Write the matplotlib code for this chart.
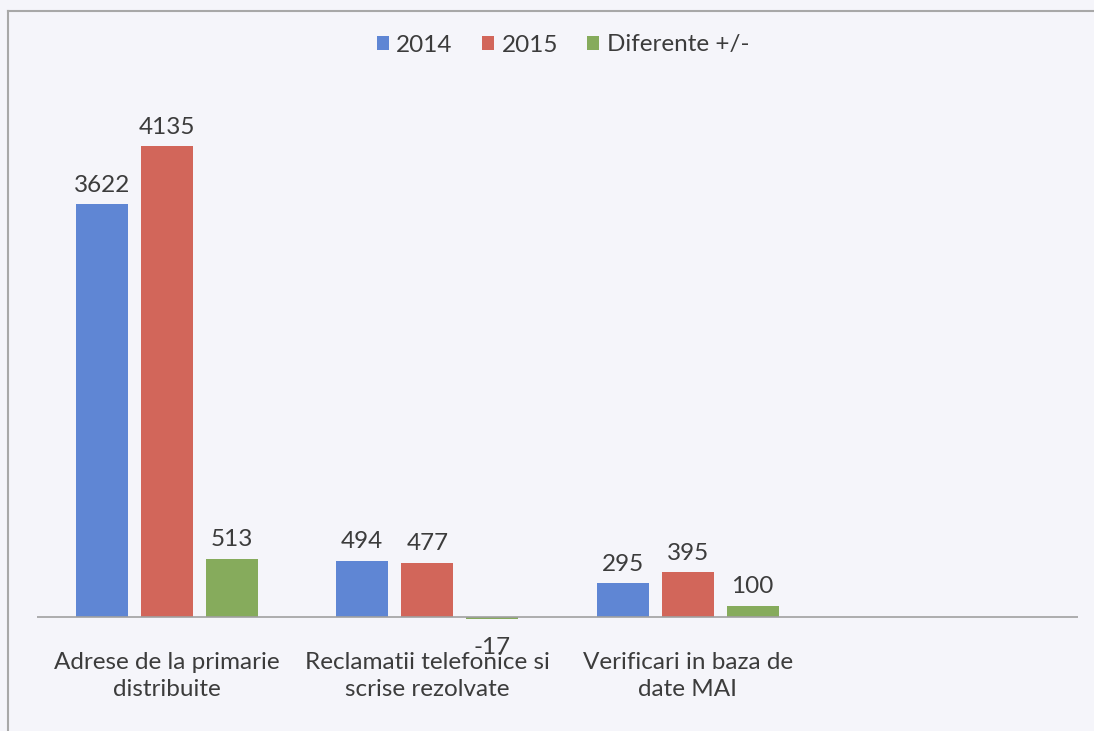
"""
Adrese / reclamatii / verificari 2014 vs 2015
"""
import matplotlib.pyplot as plt
from matplotlib.lines import Line2D
import numpy as np

plt.rcParams['font.family'] = ['Lato', 'DejaVu Sans']

# date
categorii = ['Adrese de la primarie\ndistribuite', 'Reclamatii telefonice si\nscrise rezolvate',
             'Verificari in baza de\ndate MAI', '']
val_2014 = [3622, 494, 295]
val_2015 = [4135, 477, 395]
diferente = [513, -17, 100]
serii = ['2014', '2015', 'Diferente +/-']
culori = ['#5f86d4', '#d2665a', '#86ab5c']

text_col = '#3c3c3c'
bg = '#f5f5fa'
fs = 17.5

fig = plt.figure(figsize=(10.94, 7.31), dpi=100, facecolor=bg)
ax = fig.add_axes([37 / 1094, 0.1482, 1041 / 1094, 0.709])
ax.set_facecolor(bg)

x = np.arange(len(categorii))
w = 0.2
for i, (vals, nume) in enumerate(zip([val_2014, val_2015, diferente], serii)):
    pos = x[:3] + (i - 1) * 0.25
    bars = ax.bar(pos, vals, width=w, color=culori[i], label=nume, zorder=2)
    for b, v in zip(bars, vals):
        if v >= 0:
            ax.annotate(str(v), (b.get_x() + b.get_width() / 2, v), xytext=(0, 6),
                        textcoords='offset points', ha='center', va='bottom',
                        fontsize=fs, color=text_col)
        else:
            ax.annotate(str(v), (b.get_x() + b.get_width() / 2, v), xytext=(0, -13),
                        textcoords='offset points', ha='center', va='top',
                        fontsize=fs, color=text_col, zorder=1)

ax.axhline(0, color='#a0a0a0', lw=1.2, zorder=3)
ax.set_xlim(-0.5, 3.5)
ax.set_ylim(-50, 4500)
ax.set_xticks(x)
ax.set_xticklabels(categorii, fontsize=fs, color=text_col, linespacing=1.35)
ax.tick_params(axis='x', length=0, pad=21)
ax.set_yticks([])
for s in ax.spines.values():
    s.set_visible(False)

leg = fig.legend(loc='center', bbox_to_anchor=(563 / 1094, 1 - 45 / 731), ncol=3, frameon=False,
                 fontsize=fs, handlelength=0.5, handleheight=0.5, handletextpad=0.3,
                 columnspacing=1.2)
for t in leg.get_texts():
    t.set_color(text_col)

# rama
fig.add_artist(Line2D([8 / 1094, 8 / 1094], [0, 1 - 11 / 731], color='#a8a8a8', lw=1.5))
fig.add_artist(Line2D([8 / 1094, 1], [1 - 11 / 731, 1 - 11 / 731], color='#a8a8a8', lw=1.5))

plt.savefig('out.png', dpi=100, facecolor=bg)
